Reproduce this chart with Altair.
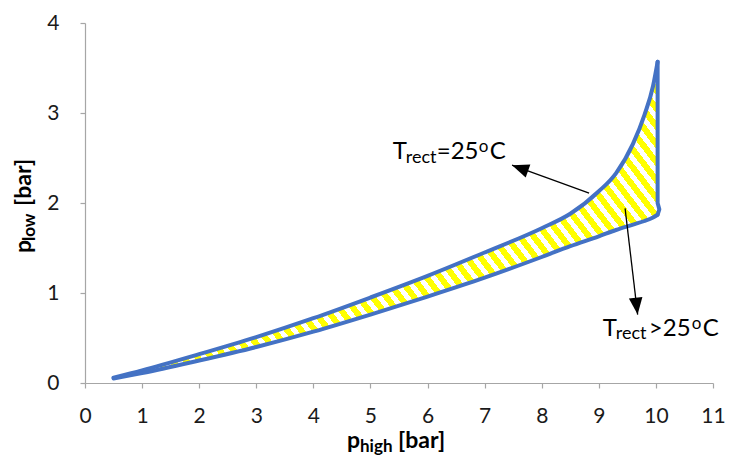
import math
import altair as alt
import pandas as pd

FONT = "Lato"
BLUE = "#4472C4"

# ---- data ----
p_high = [0.5, 1, 2, 3, 4, 5, 6, 7, 8, 8.5, 9, 9.3, 9.6, 9.8, 9.95, 10.03]
p_low_25 = [0.06, 0.14, 0.32, 0.51, 0.72, 0.95, 1.19, 1.45, 1.72, 1.88, 2.13, 2.33, 2.66, 2.98, 3.30, 3.57]
p_low_hot = [0.05, 0.11, 0.25, 0.40, 0.57, 0.76, 0.96, 1.17, 1.40, 1.52, 1.63, 1.70, 1.76, 1.80, 1.84, 1.87]

# closing edge at the right end (top of the 25 C curve down to the end of the lower curve)
edge_x = [10.03, 10.03, 10.06, 10.03]
edge_y = [3.57, 2.00, 1.93, 1.87]

# annotation arrows: tail -> head (data units)
arrow_tail_x = [8.83, 9.46]
arrow_tail_y = [2.11, 1.94]
arrow_head_x = [7.48, 9.68]
arrow_head_y = [2.42, 0.76]

x_ticks = list(range(0, 12))
y_ticks = list(range(0, 5))

W, H = 628, 360
X_DOM, Y_DOM = [0, 11], [0, 4]

curves = pd.DataFrame({"p_high": p_high, "upper": p_low_25, "lower": p_low_hot})
edge = pd.DataFrame({"x": edge_x, "y": edge_y, "o": list(range(len(edge_x)))})

px_per_x = W / (X_DOM[1] - X_DOM[0])
px_per_y = H / (Y_DOM[1] - Y_DOM[0])
angles = []
for tx, ty, hx, hy in zip(arrow_tail_x, arrow_tail_y, arrow_head_x, arrow_head_y):
    dxp = (hx - tx) * px_per_x
    dyp = -(hy - ty) * px_per_y
    angles.append(math.degrees(math.atan2(dxp, -dyp)) % 360)
arrows = pd.DataFrame({"tx": arrow_tail_x, "ty": arrow_tail_y,
                       "hx": arrow_head_x, "hy": arrow_head_y, "ang": angles})

# ---- hatch as a striped linear gradient ----
N = 59
FRAC = 0.55
stops = []
for i in range(N):
    a, m, b = i / N, (i + FRAC) / N, (i + 1) / N
    stops += [alt.GradientStop(offset=a, color="#FFFF00"),
              alt.GradientStop(offset=m, color="#FFFF00"),
              alt.GradientStop(offset=m, color="#FFFFFF"),
              alt.GradientStop(offset=b, color="#FFFFFF")]
s = 1.25
k = 0.449
hatch = alt.LinearGradient(gradient="linear", stops=stops,
                           x1=0.5 - 0.5 * s, y1=0.5 + 0.5 * k * s,
                           x2=0.5 + 0.5 * s, y2=0.5 - 0.5 * k * s)

xs = alt.Scale(domain=X_DOM, nice=False, zero=False)
ys = alt.Scale(domain=Y_DOM, nice=False, zero=False)

common_axis = dict(title=None, grid=False, format="d", labelOverlap=False, labelFlush=False,
                   labelFont=FONT, labelFontSize=21, labelColor="#1a1a1a",
                   domainColor="#A6A6A6", tickColor="#A6A6A6", tickSize=5,
                   domainWidth=1.2, tickWidth=1.2)
x_axis = alt.Axis(values=x_ticks, labelPadding=17, **common_axis)
y_axis = alt.Axis(values=y_ticks, labelPadding=21, **common_axis)

base = alt.Chart(curves)
area = base.mark_area(fill=hatch, opacity=1, interpolate="monotone").encode(
    x=alt.X("p_high:Q", scale=xs, axis=x_axis),
    y=alt.Y("lower:Q", scale=ys, axis=y_axis),
    y2="upper:Q",
)
upper_line = base.mark_line(color=BLUE, strokeWidth=4, strokeCap="round",
                            interpolate="monotone").encode(x="p_high:Q", y="upper:Q")
lower_line = base.mark_line(color=BLUE, strokeWidth=4, strokeCap="round",
                            interpolate="monotone").encode(x="p_high:Q", y="lower:Q")
edge_line = alt.Chart(edge).mark_line(color=BLUE, strokeWidth=4, strokeCap="round",
                                      strokeJoin="round").encode(
    x="x:Q", y="y:Q", order="o:Q")

arrow_rule = alt.Chart(arrows).mark_rule(color="black", strokeWidth=1.3).encode(
    x="tx:Q", y="ty:Q", x2="hx:Q", y2="hy:Q")
arrow_head = alt.Chart(arrows).mark_point(
    shape="M0,0L0.8,2L-0.8,2Z", filled=True, color="black", opacity=1, size=289,
    strokeWidth=0).encode(x="hx:Q", y="hy:Q", angle=alt.Angle("ang:Q", scale=None))


def piece(x, y, text, dx, dy, size, weight="normal"):
    return alt.Chart(pd.DataFrame({"x": [x], "y": [y]})).mark_text(
        text=text, dx=dx, dy=dy, fontSize=size, fontWeight=weight, font=FONT,
        align="left", baseline="alphabetic", color="black").encode(x="x:Q", y="y:Q")


def pix_piece(px, py, text, size, weight="normal", angle=0, dx=0, dy=0):
    return alt.Chart(pd.DataFrame({"a": [0]})).mark_text(
        text=text, fontSize=size, fontWeight=weight, font=FONT, align="left",
        baseline="alphabetic", color="black", angle=angle, dx=dx, dy=dy).encode(
        x=alt.value(px), y=alt.value(py))


texts = [
    # T_rect=25 oC
    piece(5.39, 2.49, "T", 0, 0, 24),
    piece(5.39, 2.49, "rect", 13, 4, 18),
    piece(5.39, 2.49, "=25", 44, 0, 24),
    piece(5.39, 2.49, "o", 86, -7, 17),
    piece(5.39, 2.49, "C", 97, 0, 24),
    # T_rect>25 oC
    piece(9.07, 0.52, "T", 0, 0, 24),
    piece(9.07, 0.52, "rect", 13, 3, 18),
    piece(9.07, 0.52, ">25", 46, 0, 24),
    piece(9.07, 0.52, "o", 89, -7, 17),
    piece(9.07, 0.52, "C", 100, 0, 24),
    # x title
    pix_piece(347 - 85, 448 - 23, "p", 23, "bold"),
    pix_piece(360 - 85, 452 - 23, "high", 17, "bold"),
    pix_piece(398 - 85, 448 - 23, "[bar]", 23, "bold"),
    # y title (rotated)
    pix_piece(31 - 85, 253 - 23, "p", 23, "bold", angle=270),
    pix_piece(31 - 85, 253 - 23, "low", 17, "bold", angle=270, dx=12, dy=4),
    pix_piece(31 - 85, 253 - 23, "[bar]", 23, "bold", angle=270, dx=47),
]

chart = alt.layer(area, upper_line, lower_line, edge_line, arrow_rule, arrow_head, *texts).properties(
    width=W, height=H,
    autosize=alt.AutoSizeParams(type="none"),
    padding={"left": 85, "top": 23, "right": 16, "bottom": 74},
    background="white",
).configure_view(stroke=None)

chart.save("out.html", embed_options={"renderer": "svg", "actions": False})
